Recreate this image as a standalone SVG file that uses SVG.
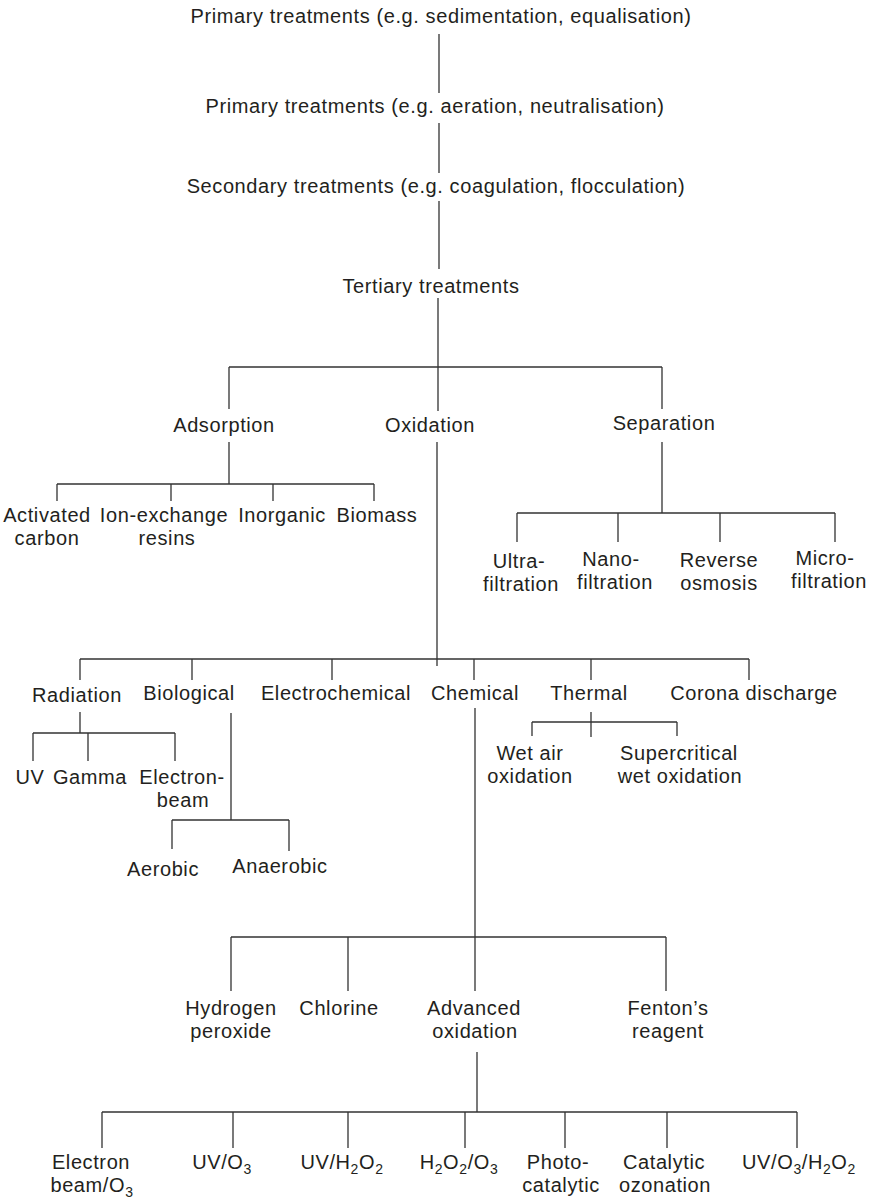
<svg xmlns="http://www.w3.org/2000/svg" width="875" height="1200" viewBox="0 0 875 1200">
<style>
text{font-family:"Liberation Sans",Arial,sans-serif;font-size:20px;letter-spacing:0.6px;fill:#231f20;text-anchor:middle}
.s{font-size:14px}
#connectors path{fill:none;stroke:#333;stroke-width:1.3}
</style>
<rect width="875" height="1200" fill="#fff"/>
<g id="connectors">
<path d="M439 34V93M439 123V173M439 201V269"/>
<path d="M438 298V411M229 367H662M229 367V409M662 367V409"/>
<path d="M229 442V484M57 484H374M57 484V501M171 484V501M273 484V501M374 484V501"/>
<path d="M662 442V513M517 513H835M517 513V542M618 513V542M720 513V542M835 513V542"/>
<path d="M437 442V666M80 659H749M80 659V680M192 659V680M332 659V680M474 659V680M591 659V680M749 659V680"/>
<path d="M80 712V733M33 733H175M33 733V761M88 733V761M175 733V761"/>
<path d="M231 713V820M172 820H289M172 820V849M289 820V851"/>
<path d="M591 712V737M532 722H677M532 722V736M677 722V736"/>
<path d="M475 708V937M231 937H666M231 937V991M348 937V991M475 937V991M666 937V991"/>
<path d="M477 1052V1112M102 1112H797M102 1112V1148M233 1112V1148M348 1112V1148M465 1112V1148M565 1112V1148M667 1112V1148M797 1112V1148"/>
</g>
<g id="primary1"><text x="441" y="23">Primary treatments (e.g. sedimentation, equalisation)</text></g>
<g id="primary2"><text x="435" y="113">Primary treatments (e.g. aeration, neutralisation)</text></g>
<g id="secondary"><text x="436" y="193">Secondary treatments (e.g. coagulation, flocculation)</text></g>
<g id="tertiary"><text x="431" y="293">Tertiary treatments</text></g>
<g id="adsorption"><text x="224" y="432">Adsorption</text></g>
<g id="oxidation"><text x="430" y="432">Oxidation</text></g>
<g id="separation"><text x="664" y="430">Separation</text></g>
<g id="activated-carbon"><text x="47" y="522">Activated</text><text x="47" y="545">carbon</text></g>
<g id="ion-exchange"><text x="164" y="522">Ion-exchange</text><text x="167" y="545">resins</text></g>
<g id="inorganic"><text x="282" y="522">Inorganic</text></g>
<g id="biomass"><text x="377" y="522">Biomass</text></g>
<g id="ultrafiltration"><text x="519" y="568">Ultra-</text><text x="521" y="591">filtration</text></g>
<g id="nanofiltration"><text x="611" y="566">Nano-</text><text x="615" y="589">filtration</text></g>
<g id="reverse-osmosis"><text x="719" y="567">Reverse</text><text x="719" y="590">osmosis</text></g>
<g id="microfiltration"><text x="825" y="565">Micro-</text><text x="829" y="588">filtration</text></g>
<g id="radiation"><text x="77" y="702">Radiation</text></g>
<g id="biological"><text x="189" y="700">Biological</text></g>
<g id="electrochemical"><text x="336" y="700">Electrochemical</text></g>
<g id="chemical"><text x="475" y="700">Chemical</text></g>
<g id="thermal"><text x="589" y="700">Thermal</text></g>
<g id="corona"><text x="754" y="700">Corona discharge</text></g>
<g id="uv"><text x="30" y="784">UV</text></g>
<g id="gamma"><text x="90" y="784">Gamma</text></g>
<g id="electron-beam"><text x="182" y="784">Electron-</text><text x="183" y="807">beam</text></g>
<g id="aerobic"><text x="163" y="876">Aerobic</text></g>
<g id="anaerobic"><text x="280" y="873">Anaerobic</text></g>
<g id="wet-air"><text x="530" y="760">Wet air</text><text x="530" y="783">oxidation</text></g>
<g id="supercritical"><text x="679" y="760">Supercritical</text><text x="680" y="783">wet oxidation</text></g>
<g id="hydrogen-peroxide"><text x="231" y="1015">Hydrogen</text><text x="231" y="1038">peroxide</text></g>
<g id="chlorine"><text x="339" y="1015">Chlorine</text></g>
<g id="advanced-oxidation"><text x="474" y="1015">Advanced</text><text x="475" y="1038">oxidation</text></g>
<g id="fenton"><text x="668" y="1015">Fenton’s</text><text x="668" y="1038">reagent</text></g>
<g id="electron-beam-o3"><text x="91" y="1169">Electron</text><text x="92" y="1192">beam/O<tspan class="s" dy="5">3</tspan></text></g>
<g id="uv-o3"><text x="222" y="1169">UV/O<tspan class="s" dy="5">3</tspan></text></g>
<g id="uv-h2o2"><text x="342" y="1169">UV/H<tspan class="s" dy="5">2</tspan><tspan dy="-5">O</tspan><tspan class="s" dy="5">2</tspan></text></g>
<g id="h2o2-o3"><text x="459" y="1169">H<tspan class="s" dy="5">2</tspan><tspan dy="-5">O</tspan><tspan class="s" dy="5">2</tspan><tspan dy="-5">/O</tspan><tspan class="s" dy="5">3</tspan></text></g>
<g id="photocatalytic"><text x="558" y="1169">Photo-</text><text x="561" y="1192">catalytic</text></g>
<g id="catalytic-ozonation"><text x="664" y="1169">Catalytic</text><text x="665" y="1192">ozonation</text></g>
<g id="uv-o3-h2o2"><text x="799" y="1169">UV/O<tspan class="s" dy="5">3</tspan><tspan dy="-5">/H</tspan><tspan class="s" dy="5">2</tspan><tspan dy="-5">O</tspan><tspan class="s" dy="5">2</tspan></text></g>
</svg>
